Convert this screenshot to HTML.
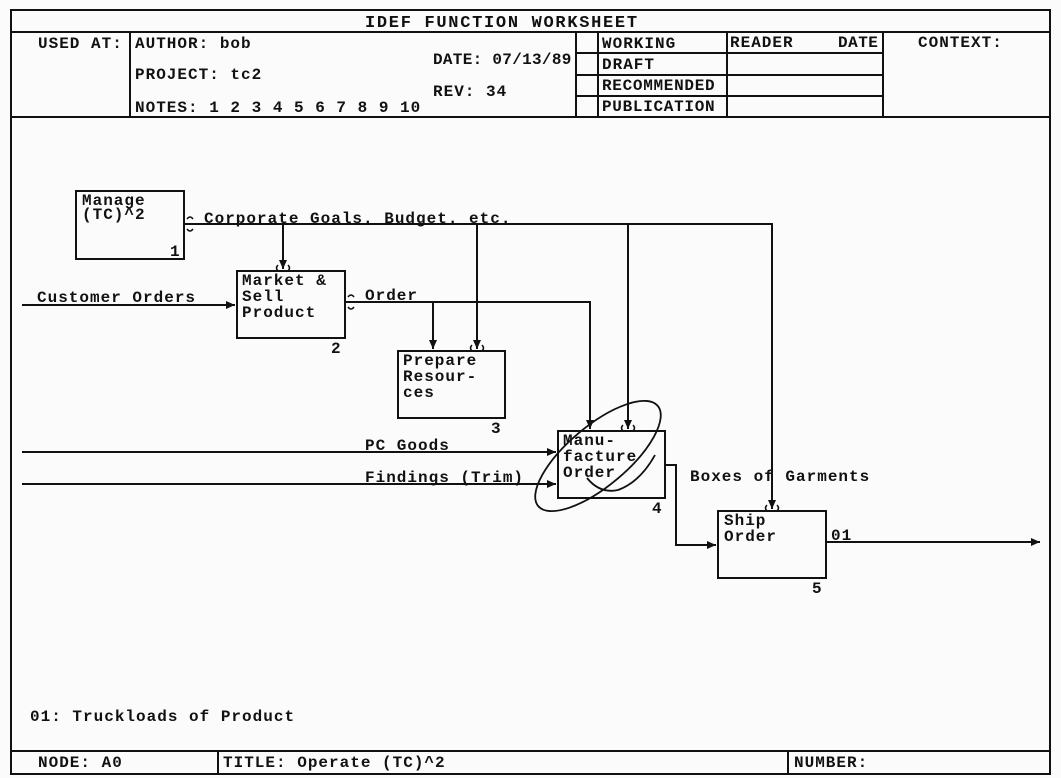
<!DOCTYPE html>
<html><head><meta charset="utf-8"><style>
html,body{margin:0;padding:0;background:#fbfbfb;}
svg{display:block;}
text{font-family:"Liberation Mono",monospace;font-weight:bold;fill:#111;font-size:16px;letter-spacing:1px;}
</style></head><body>
<svg width="1061" height="778" viewBox="0 0 1061 778" xmlns="http://www.w3.org/2000/svg">
<defs>
<marker id="a" markerWidth="10" markerHeight="10" refX="9" refY="4" orient="auto" markerUnits="userSpaceOnUse">
<path d="M0,0 L9,4 L0,8 z" fill="#111"/></marker>
</defs>
<g stroke="#111" stroke-width="2" fill="none">
<rect x="11" y="10" width="1039" height="764"/>
<line x1="11" y1="32" x2="1050" y2="32"/>
<line x1="11" y1="117" x2="1050" y2="117"/>
<line x1="130" y1="32" x2="130" y2="117"/>
<line x1="576" y1="32" x2="576" y2="117"/>
<line x1="598" y1="32" x2="598" y2="117"/>
<line x1="727" y1="32" x2="727" y2="117"/>
<line x1="883" y1="32" x2="883" y2="117"/>
<line x1="576" y1="53" x2="883" y2="53"/>
<line x1="576" y1="75" x2="883" y2="75"/>
<line x1="576" y1="96" x2="883" y2="96"/>
<line x1="11" y1="751" x2="1050" y2="751"/>
<line x1="218" y1="751" x2="218" y2="774"/>
<line x1="788" y1="751" x2="788" y2="774"/>
<rect x="76" y="191" width="108" height="68"/>
<rect x="237" y="271" width="108" height="67"/>
<rect x="398" y="351" width="107" height="67"/>
<rect x="558" y="431" width="107" height="67"/>
<rect x="718" y="511" width="108" height="67"/>
<polyline points="184,224 772,224 772,509" marker-end="url(#a)"/>
<line x1="283" y1="224" x2="283" y2="269" marker-end="url(#a)"/>
<line x1="477" y1="224" x2="477" y2="349" marker-end="url(#a)"/>
<line x1="628" y1="224" x2="628" y2="429" marker-end="url(#a)"/>
<line x1="22" y1="305" x2="235" y2="305" marker-end="url(#a)"/>
<polyline points="345,302 590,302 590,429" marker-end="url(#a)"/>
<line x1="433" y1="302" x2="433" y2="349" marker-end="url(#a)"/>
<line x1="22" y1="452" x2="556" y2="452" marker-end="url(#a)"/>
<line x1="22" y1="484" x2="556" y2="484" marker-end="url(#a)"/>
<polyline points="665,465 676,465 676,545 716,545" marker-end="url(#a)"/>
<line x1="826" y1="542" x2="1040" y2="542" marker-end="url(#a)"/>
<path d="M187,219 q3,-4 6,0 M187,229 q3,4 6,0" stroke-width="1.5"/>
<path d="M348,297 q3,-4 6,0 M348,307 q3,4 6,0" stroke-width="1.5"/>
<path d="M278,265 q-3,3 0,6 M288,265 q3,3 0,6" stroke-width="1.5"/>
<path d="M472,345 q-3,3 0,6 M482,345 q3,3 0,6" stroke-width="1.5"/>
<path d="M623,425 q-3,3 0,6 M633,425 q3,3 0,6" stroke-width="1.5"/>
<path d="M767,505 q-3,3 0,6 M777,505 q3,3 0,6" stroke-width="1.5"/>
<ellipse cx="598" cy="456" rx="78" ry="30" transform="rotate(-40 598 456)" stroke-width="1.8"/>
<path d="M587,478 Q600,494 618,490 Q640,482 655,455" stroke-width="1.8"/>
</g>
<text x="365" y="27" style="font-size:17px;letter-spacing:1.7px">IDEF FUNCTION WORKSHEET</text>
<text x="38" y="48">USED AT:</text>
<text x="135" y="48">AUTHOR: bob</text>
<text x="433" y="64" style="letter-spacing:0.3px">DATE: 07/13/89</text>
<text x="135" y="79">PROJECT: tc2</text>
<text x="433" y="96">REV: 34</text>
<text x="135" y="112">NOTES: 1 2 3 4 5 6 7 8 9 10</text>
<text x="602" y="48">WORKING</text>
<text x="602" y="69">DRAFT</text>
<text x="602" y="90" style="letter-spacing:0.7px">RECOMMENDED</text>
<text x="602" y="111" style="letter-spacing:0.7px">PUBLICATION</text>
<text x="730" y="47">READER</text>
<text x="838" y="47" style="letter-spacing:0.5px">DATE</text>
<text x="918" y="47">CONTEXT:</text>
<text x="38" y="767">NODE: A0</text>
<text x="223" y="767">TITLE: Operate (TC)^2</text>
<text x="794" y="767">NUMBER:</text>
<text x="82" y="205">Manage</text>
<text x="82" y="219">(TC)^2</text>
<text x="170" y="256">1</text>
<text x="204" y="223">Corporate Goals. Budget. etc.</text>
<text x="242" y="285">Market &amp;</text>
<text x="242" y="301">Sell</text>
<text x="242" y="317">Product</text>
<text x="331" y="353">2</text>
<text x="37" y="302">Customer Orders</text>
<text x="365" y="300">Order</text>
<text x="403" y="365">Prepare</text>
<text x="403" y="381">Resour-</text>
<text x="403" y="397">ces</text>
<text x="491" y="433">3</text>
<text x="563" y="445">Manu-</text>
<text x="563" y="461">facture</text>
<text x="563" y="477">Order</text>
<text x="652" y="513">4</text>
<text x="365" y="450">PC Goods</text>
<text x="365" y="482">Findings (Trim)</text>
<text x="690" y="481">Boxes of Garments</text>
<text x="724" y="525">Ship</text>
<text x="724" y="541">Order</text>
<text x="812" y="593">5</text>
<text x="831" y="540">01</text>
<text x="30" y="721">01: Truckloads of Product</text>
</svg>
</body></html>
